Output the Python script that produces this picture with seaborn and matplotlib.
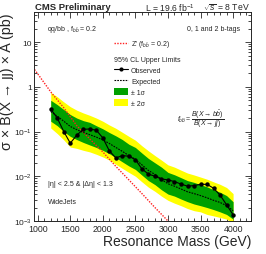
import numpy as np
import pandas as pd
import matplotlib
matplotlib.use('Agg')
import matplotlib.pyplot as plt
import seaborn as sns
from matplotlib.ticker import MultipleLocator, LogLocator, FixedLocator, NullFormatter
from matplotlib.lines import Line2D
from matplotlib.patches import Patch

mass = [1200, 1300, 1400, 1500, 1600, 1700, 1800, 1900, 2000, 2100, 2200, 2300, 2400, 2500,
        2600, 2700, 2800, 2900, 3000, 3100, 3200, 3300, 3400, 3500, 3600, 3700, 3800, 3900, 4000]
observed = [0.32, 0.20, 0.10, 0.055, 0.083, 0.112, 0.114, 0.107, 0.072, 0.037, 0.0257, 0.029, 0.028, 0.0235,
            0.0146, 0.0112, 0.0100, 0.0087, 0.0083, 0.0076, 0.0067, 0.0060, 0.0062, 0.0066, 0.0066, 0.0054,
            0.0038, 0.0023, 0.00138]
expected = [0.28, 0.22, 0.17, 0.13, 0.11, 0.095, 0.085, 0.075, 0.065, 0.054, 0.044, 0.036, 0.029, 0.024,
            0.018, 0.0135, 0.011, 0.0085, 0.0068, 0.0060, 0.0052, 0.0045, 0.0041, 0.0037, 0.0033, 0.0029,
            0.0026, 0.0022, 0.0017]
sig1_hi = [0.50, 0.40, 0.31, 0.24, 0.20, 0.175, 0.16, 0.135, 0.115, 0.095, 0.08, 0.066, 0.052, 0.044,
           0.033, 0.025, 0.020, 0.016, 0.0122, 0.0108, 0.0093, 0.0080, 0.0073, 0.0065, 0.0058, 0.0050,
           0.0044, 0.0037, 0.0027]
sig1_lo = [0.17, 0.135, 0.10, 0.078, 0.066, 0.057, 0.050, 0.044, 0.038, 0.032, 0.026, 0.021, 0.017, 0.0142,
           0.0106, 0.0080, 0.0065, 0.0050, 0.0040, 0.0036, 0.0031, 0.0027, 0.0024, 0.0022, 0.0020, 0.0018,
           0.0016, 0.0014, 0.0011]
sig2_hi = [0.75, 0.60, 0.46, 0.36, 0.30, 0.26, 0.23, 0.20, 0.17, 0.14, 0.118, 0.096, 0.078, 0.064,
           0.048, 0.037, 0.029, 0.023, 0.018, 0.016, 0.0137, 0.0118, 0.0107, 0.0096, 0.0086, 0.0075,
           0.0066, 0.0056, 0.0041]
sig2_lo = [0.12, 0.090, 0.065, 0.045, 0.042, 0.038, 0.035, 0.031, 0.027, 0.023, 0.0185, 0.015, 0.0122, 0.0100,
           0.0075, 0.0057, 0.0046, 0.0036, 0.0029, 0.0025, 0.0022, 0.0019, 0.0017, 0.0016, 0.0014, 0.0013,
           0.0012, 0.0011, 0.0009]

zp_mass = [900, 1000, 1200, 1400, 1600, 1800, 2000, 2200, 2400, 2600, 2800, 3000, 3100]
zp_xsec = [3.06, 1.95, 0.77, 0.34, 0.135, 0.068, 0.035, 0.0166, 0.0083, 0.0041, 0.0020, 0.0010, 0.0007]

ytick_vals = [1e-3, 1e-2, 1e-1, 1, 10]
ytick_labels = ['$10^{-3}$', '$10^{-2}$', '$10^{-1}$', '1', '10']

df = pd.DataFrame({'mass': mass, 'observed': observed, 'expected': expected})
zp = pd.DataFrame({'mass': zp_mass, 'xsec': zp_xsec})

sns.set_style('ticks')
plt.rcParams['font.family'] = ['Liberation Sans', 'DejaVu Sans']
plt.rcParams['mathtext.fontset'] = 'custom'
plt.rcParams['mathtext.rm'] = 'Liberation Sans'
plt.rcParams['mathtext.it'] = 'Liberation Sans:italic'
plt.rcParams['mathtext.bf'] = 'Liberation Sans:bold'

fig = plt.figure(figsize=(2.66, 2.55), dpi=100)
ax = fig.add_axes([34/266, 33/255, 217/266, 209/255])
ax.set_yscale('log')

ax.fill_between(mass, sig2_lo, sig2_hi, color='#ffff00', lw=0)
ax.fill_between(mass, sig1_lo, sig1_hi, color='#00a000', lw=0)
sns.lineplot(data=zp, x='mass', y='xsec', ax=ax, color='#ff2020', lw=1.0, linestyle=(0, (1, 1)))
sns.lineplot(data=df, x='mass', y='expected', ax=ax, color='black', lw=0.8, linestyle=(0, (1.5, 1)))
sns.lineplot(data=df, x='mass', y='observed', ax=ax, color='black', lw=0.8, marker='o',
             markersize=3.2, markeredgewidth=0)

ax.set_xlim(943, 4275)
ax.set_ylim(1e-3, 47)
ax.xaxis.set_major_locator(MultipleLocator(500))
ax.xaxis.set_minor_locator(MultipleLocator(100))
ax.yaxis.set_major_locator(FixedLocator(ytick_vals))
ax.set_yticklabels(ytick_labels)
ax.yaxis.set_minor_locator(LogLocator(base=10, subs=np.arange(2, 10)))
ax.yaxis.set_minor_formatter(NullFormatter())
ax.tick_params(which='both', direction='in', top=True, right=True, labelsize=6.3, pad=2, width=0.6)
ax.tick_params(axis='y', pad=1.5, labelsize=6)
ax.tick_params(which='major', length=4.5)
ax.tick_params(which='minor', length=2.2)
for s in ax.spines.values():
    s.set_linewidth(0.7)

ax.set_xlabel('Resonance Mass (GeV)', fontsize=10, loc='right', labelpad=1)
ax.set_ylabel('σ × B(X → jj) × A (pb)', fontsize=10.3, loc='top')
ax.yaxis.set_label_coords(-0.093, 1.0)

fig.text(35/266, 1 - 8/255, 'CMS Preliminary', fontsize=6.8, fontweight='bold', va='center', ha='left')
fig.text(195/266, 1 - 8/255, 'L = 19.6 fb$^{-1}$', fontsize=6.2, va='center', ha='right')
fig.text(250/266, 1 - 8/255, '$\\sqrt{s}$ = 8 TeV', fontsize=6.2, va='center', ha='right')

ax.text(0.06, 0.92, 'qq/bb , f$_{b\\bar{b}}$ = 0.2', transform=ax.transAxes, fontsize=5, va='center')
ax.text(0.95, 0.92, '0, 1 and 2 b-tags', transform=ax.transAxes, fontsize=5, va='center', ha='right')
ax.text(0.66, 0.49, '$f_{b\\bar{b}} = \\dfrac{B(X \\rightarrow b\\bar{b})}{B(X \\rightarrow jj)}$',
        transform=ax.transAxes, fontsize=5, va='center')
ax.text(0.065, 0.178, '|η| < 2.5 & |Δη| < 1.3', transform=ax.transAxes, fontsize=5, va='center')
ax.text(0.065, 0.095, 'WideJets', transform=ax.transAxes, fontsize=5, va='center')

leg1 = ax.legend(handles=[Line2D([], [], color='#ff2020', lw=1.0, linestyle=(0, (1, 1)))],
                 labels=["Z' (f$_{b\\bar{b}}$ = 0.2)"], loc='center left', bbox_to_anchor=(0.37, 0.847),
                 frameon=False, fontsize=5, handlelength=2, handletextpad=0.4, borderpad=0, borderaxespad=0)
ax.add_artist(leg1)
handles = [Line2D([], [], color='black', lw=0.8, marker='o', markersize=3, markeredgewidth=0),
           Line2D([], [], color='black', lw=0.8, linestyle=(0, (1.5, 1))),
           Patch(facecolor='#00a000', edgecolor='none'),
           Patch(facecolor='#ffff00', edgecolor='none')]
ax.legend(handles=handles, labels=['Observed', 'Expected', '± 1σ', '± 2σ'],
          title='95% CL Upper Limits', title_fontsize=5, alignment='left',
          loc='upper left', bbox_to_anchor=(0.37, 0.79), frameon=False, fontsize=5,
          handlelength=2, handleheight=1.2, handletextpad=0.4, labelspacing=0.45,
          borderpad=0, borderaxespad=0)

fig.savefig('out.png', dpi=100)
